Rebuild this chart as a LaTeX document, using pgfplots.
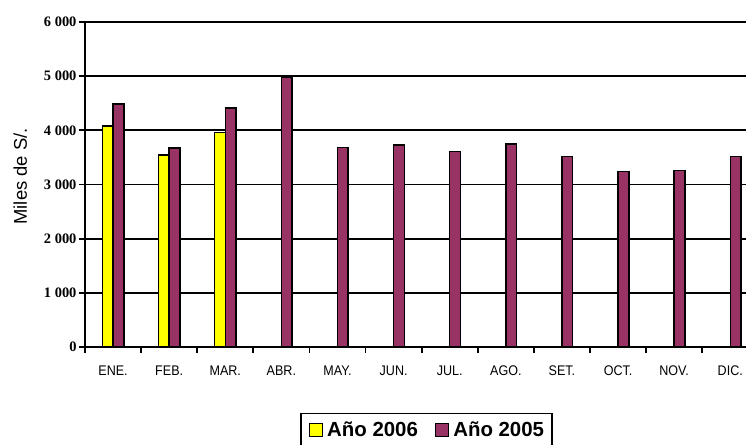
\documentclass[border=0pt]{standalone}
\usepackage{fontspec}
\setmainfont{Liberation Sans}
\newfontfamily\tnr{Liberation Serif}
\newfontfamily\narrow[FakeStretch=0.9]{Liberation Sans}
\usepackage{pgfplots}
\pgfplotsset{compat=1.18}
\definecolor{yel}{HTML}{FFFF00}
\definecolor{plum}{HTML}{993366}
\begin{document}
\begin{tikzpicture}
\begin{axis}[
  scale only axis,
  width=661bp, height=325bp,
  at={(0,0)}, anchor=south west,
  xmin=-0.5, xmax=11.28,
  ymin=0, ymax=6000,
  axis y line*=left, axis x line*=bottom,
  axis line style={line width=1.7bp, -},
  ytick={0,1000,2000,3000,4000,5000,6000},
  yticklabels={0,1 000,2 000,3 000,4 000,5 000,6 000},
  yticklabel style={font=\fontsize{14.5}{16}\tnr\bfseries, xshift=1bp},
  ytick style={line width=1.7bp, black},
  tick align=outside,
  major tick length=6bp,
  ymajorgrids,
  grid style={line width=1.7bp, black},
  xtick={0,...,11},
  xticklabels={ENE.,FEB.,MAR.,ABR.,MAY.,JUN.,JUL.,AGO.,SET.,OCT.,NOV.,DIC.},
  xticklabel style={font=\fontsize{14}{16}\narrow, yshift=-9bp},
  x tick style={draw=none},
  minor xtick={-0.5,0.5,...,10.5},
  minor x tick style={line width=1.7bp, black, draw=black},
  minor tick length=6bp,
  ylabel={Miles de S/.},
  ylabel style={font=\fontsize{18.5}{20}\selectfont, at={(axis description cs:-0.098,0.525)}, anchor=center, rotate=0},
  bar width=10.7bp,
  legend style={at={(axis description cs:0.3253,-0.202)}, anchor=north west, legend columns=2,
    draw=black, line width=1.7bp, font=\fontsize{20.5}{22}\bfseries,
    inner xsep=8bp, inner ysep=8bp,
    nodes={inner sep=0bp},
    column sep=4bp,
    /tikz/every even column/.append style={column sep=17bp}},
  legend image code/.code={\draw[#1, line width=1.3bp] (0bp,-7.2bp) rectangle (13bp,5.8bp);},
  clip=false,
]
\addplot[ybar, bar shift=-5.35bp, fill=yel, draw=black, line width=1.5bp]
  coordinates {(0,4080) (1,3545) (2,3960)};
\addlegendentry{Año 2006}
\addplot[ybar, bar shift=5.35bp, fill=plum, draw=black, line width=1.5bp]
  coordinates {(0,4490) (1,3675) (2,4410) (3,4980) (4,3685) (5,3727) (6,3605) (7,3745) (8,3515) (9,3244) (10,3262) (11,3520)};
\addlegendentry{Año 2005}
\end{axis}
\pgfresetboundingbox
\path[use as bounding box] (-85bp,-98bp) rectangle (661bp,347bp);
\end{tikzpicture}
\end{document}
